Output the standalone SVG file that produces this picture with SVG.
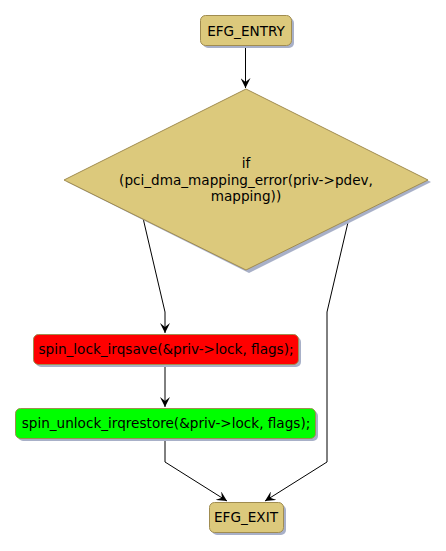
<svg xmlns="http://www.w3.org/2000/svg" width="446" height="551" viewBox="0 0 446 551">
<style>
.box{stroke:#a08c50;stroke-width:1}
.sh{fill:#a8b0c8}
.t{font-family:"DejaVu Sans",sans-serif;font-size:13.6px;fill:#000;text-anchor:middle}
.c{fill:none;stroke:#000;stroke-width:1}
</style>
<defs>
<marker id="ah" viewBox="0 0 10 10" refX="10" refY="5" markerWidth="10" markerHeight="10" markerUnits="userSpaceOnUse" orient="auto">
<path d="M0,0 L10,5 L0,10 L4,5 Z" fill="#000"/>
</marker>
</defs>
<rect width="446" height="551" fill="#fff"/>
<g id="connectors">
<path class="c" d="M245.5,45 V88" marker-end="url(#ah)"/>
<path class="c" d="M143,218 L165,312 V333" marker-end="url(#ah)"/>
<path class="c" d="M165,364 V407" marker-end="url(#ah)"/>
<path class="c" d="M165,438 V462 L227,501" marker-end="url(#ah)"/>
<path class="c" d="M349,218 L327,312 V462 L265,501" marker-end="url(#ah)"/>
</g>
<g id="entry">
<rect class="sh" x="203" y="18" width="91" height="30" rx="5"/>
<rect class="box" x="200.5" y="15.5" width="91" height="30" rx="5" fill="#dcc97c"/>
<text class="t" x="246" y="36">EFG_ENTRY</text>
</g>
<g id="decision">
<polygon class="sh" points="249,92 431,182 249,273 67,182"/>
<polygon class="box" points="246,89 428,180 246,270 64,180" fill="#dcc97c"/>
<text class="t" x="246" y="168">if</text>
<text class="t" x="246" y="185">(pci_dma_mapping_error(priv-&gt;pdev,</text>
<text class="t" x="246" y="201">mapping))</text>
</g>
<g id="lock">
<rect class="sh" x="36" y="337" width="265" height="30" rx="5"/>
<rect class="box" x="33.5" y="334.5" width="265" height="30" rx="5" fill="#ff0000"/>
<text class="t" x="166" y="354">spin_lock_irqsave(&amp;priv-&gt;lock, flags);</text>
</g>
<g id="unlock">
<rect class="sh" x="18" y="411" width="300" height="30" rx="5"/>
<rect class="box" x="15.5" y="408.5" width="300" height="30" rx="5" fill="#00ff00"/>
<text class="t" x="166" y="428">spin_unlock_irqrestore(&amp;priv-&gt;lock, flags);</text>
</g>
<g id="exit">
<rect class="sh" x="212" y="505" width="74" height="30" rx="5"/>
<rect class="box" x="209.5" y="502.5" width="74" height="30" rx="5" fill="#dcc97c"/>
<text class="t" x="246" y="522">EFG_EXIT</text>
</g>
</svg>
